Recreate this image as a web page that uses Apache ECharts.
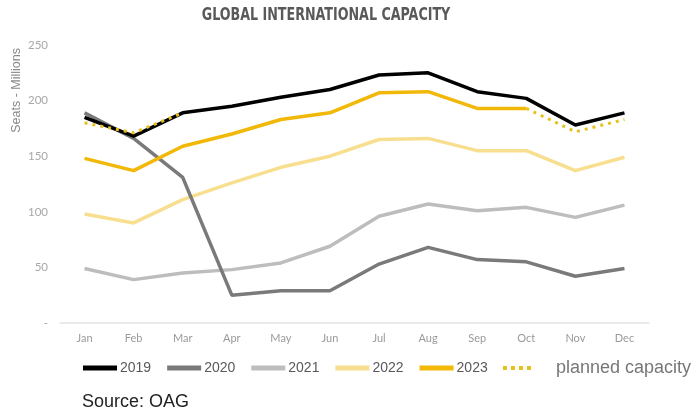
<!DOCTYPE html>
<html>
<head>
<meta charset="utf-8">
<script src="https://cdn.jsdelivr.net/npm/echarts@6/dist/echarts.min.js"></script>
<style>
html,body{margin:0;padding:0;background:#fff;}
#main{width:696px;height:415px;}
</style>
</head>
<body>
<div id="main"></div>
<script>
var months = ['Jan','Feb','Mar','Apr','May','Jun','Jul','Aug','Sep','Oct','Nov','Dec'];
var yTicks = [0, 50, 100, 150, 200, 250];
var s2019 = [185, 168, 189, 195, 203, 210, 223, 225, 208, 202, 178, 189];
var s2020 = [189, 166, 131, 25, 29, 29, 53, 68, 57, 55, 42, 49];
var s2021 = [49, 39, 45, 48, 54, 69, 96, 107, 101, 104, 95, 106];
var s2022 = [98, 90, 111, 126, 140, 150, 165, 166, 155, 155, 137, 149];
var s2023 = [148, 137, 159, 170, 183, 189, 207, 208, 193, 193, null, null];
var planned = [180, 171, 189, null, null, null, null, null, null, 193, 172, 183];

var chart = echarts.init(document.getElementById('main'), null, {renderer: 'canvas'});

function lineSeries(name, data, color, z) {
  return {
    name: name, type: 'line', data: data, symbol: 'none', z: z,
    lineStyle: {color: color, width: 3.5},
    itemStyle: {color: color},
    emphasis: {disabled: true}
  };
}

var option = {
  animation: false,
  backgroundColor: '#ffffff',
  grid: {left: 60, right: 47, top: 45, bottom: 92},
  xAxis: {
    type: 'category', data: months, boundaryGap: true,
    axisLine: {lineStyle: {color: '#e3e3e3', width: 1.5}},
    axisTick: {show: false},
    axisLabel: {color: '#9a9a9a', fontSize: 11, fontFamily: 'Lato', margin: 10}
  },
  yAxis: {
    type: 'value', min: yTicks[0], max: yTicks[yTicks.length - 1], interval: 50,
    axisLine: {show: false}, axisTick: {show: false}, splitLine: {show: false},
    axisLabel: {
      color: '#a8a8a8', fontSize: 11.5, fontFamily: 'Lato', margin: 12,
      formatter: function (v) { return v === 0 ? '-' : String(v); }
    }
  },
  legend: [{
    data: ['2019', '2020', '2021', '2022', '2023'],
    left: 78, top: 356, icon: 'rect', itemWidth: 34, itemHeight: 5, itemGap: 16,
    selectedMode: false,
    textStyle: {color: '#595959', fontSize: 14, fontFamily: 'Liberation Sans', padding: [0, 0, 0, -2]}
  }, {
    data: [{name: 'planned capacity', icon: 'path://M0,0h4v4h-4z M8,0h4v4h-4z M16,0h4v4h-4z M24,0h4v4h-4z'}],
    left: 498, top: 354, itemWidth: 28, itemHeight: 4,
    selectedMode: false,
    textStyle: {color: '#777777', fontSize: 18, fontFamily: 'Liberation Sans', padding: [0, 0, 0, 20]}
  }],
  graphic: [{
    type: 'text', x: 326, y: 16, scaleX: 0.83,
    style: {text: 'GLOBAL INTERNATIONAL CAPACITY', fill: '#595959', fontSize: 17, fontWeight: 'bold',
      fontFamily: "'Liberation Sans Narrow','DejaVu Sans Condensed',sans-serif",
      align: 'center', verticalAlign: 'middle'}
  }, {
    type: 'text', left: 10, top: 48, rotation: Math.PI / 2,
    style: {text: 'Seats - Millions', fill: '#8a8a8a', fontSize: 12.5, fontFamily: 'Liberation Sans'}
  }, {
    type: 'text', left: 82, top: 393,
    style: {text: 'Source: OAG', fill: '#222222', fontSize: 18, fontFamily: 'Liberation Sans'}
  }],
  series: [
    lineSeries('2021', s2021, '#bdbdbd', 2),
    lineSeries('2022', s2022, '#f8df90', 3),
    lineSeries('2020', s2020, '#7a7a7a', 4),
    lineSeries('2023', s2023, '#f2b807', 5),
    lineSeries('2019', s2019, '#000000', 6),
    {
      name: 'planned capacity', type: 'line', data: planned, symbol: 'none', z: 7,
      lineStyle: {color: '#e8c01c', width: 3, type: [3, 5]},
      itemStyle: {color: '#e8c01c'},
      emphasis: {disabled: true}
    }
  ]
};
chart.setOption(option);
</script>
</body>
</html>
